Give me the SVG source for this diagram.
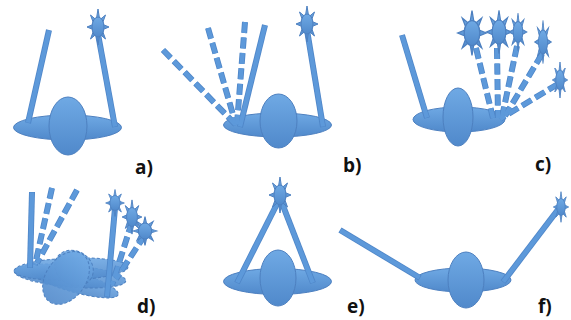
<svg xmlns="http://www.w3.org/2000/svg" xmlns:xlink="http://www.w3.org/1999/xlink" width="571" height="320" viewBox="0 0 571 320">
  <defs>
    <linearGradient id="blue" x1="0" y1="0" x2="0" y2="1">
      <stop offset="0" stop-color="#6fa9e4"/>
      <stop offset="1" stop-color="#5089cb"/>
    </linearGradient>
    <!-- sun / light source: narrow spikes behind an elliptic body -->
    <g id="sun">
      <polygon class="body" points="0,-18 1.4,-9.2 2.9,-8.1 7.5,-12 4.9,-4.9 5.5,-2.3 11,0 5.5,2.3 4.9,4.9 7.5,12 2.9,8.1 1.4,9.2 0,18 -1.4,9.2 -2.9,8.1 -7.5,12 -4.9,4.9 -5.5,2.3 -11,0 -5.5,-2.3 -4.9,-4.9 -7.5,-12 -2.9,-8.1 -1.4,-9.2"/>
      <ellipse class="body" cx="0" cy="0" rx="6" ry="10"/>
    </g>
    <style>
      .body { fill: url(#blue); stroke: #4d80c0; stroke-width: 1; }
      .ghost { fill: url(#blue); fill-opacity: 0.9; stroke: #4d80c0; stroke-width: 1; stroke-dasharray: 3 2; }
      .stick line { stroke-linecap: butt; }
      .edge line { stroke: #4f86c8; stroke-width: 6; }
      .core line { stroke: #5d99da; stroke-width: 4.4; }
      .dash { stroke-dasharray: 11 4.5; }
      .label { font-family: "Open Sans", "Liberation Sans", sans-serif; font-weight: bold; font-size: 19px; fill: #111; }
    </style>
  </defs>

  <!-- a) two sticks, one touching the sun -->
  <g id="panel-a">
    <ellipse class="body" cx="67.5" cy="127.5" rx="54" ry="12.5"/>
    <ellipse class="body" cx="68" cy="126" rx="19" ry="29"/>
    <g class="stick edge">
      <line x1="49" y1="30" x2="28" y2="123"/>
      <line x1="98" y1="34" x2="115" y2="127"/>
    </g>
    <g class="stick core">
      <line x1="49" y1="30.5" x2="28" y2="122.5"/>
      <line x1="98" y1="34.5" x2="115" y2="126.5"/>
    </g>
    <use xlink:href="#sun" transform="translate(98,27)"/>
    <text class="label" x="135" y="174">a)</text>
  </g>

  <!-- b) one stick sweeping towards the other -->
  <g id="panel-b">
    <ellipse class="body" cx="277.5" cy="125" rx="54" ry="12"/>
    <ellipse class="body" cx="278.5" cy="121" rx="18.5" ry="27"/>
    <g class="stick edge">
      <line class="dash" x1="163" y1="50" x2="236" y2="125"/>
      <line class="dash" x1="208" y1="28" x2="236" y2="125"/>
      <line class="dash" x1="245" y1="22" x2="237" y2="124"/>
      <line x1="265" y1="25" x2="240" y2="127"/>
      <line x1="307" y1="30" x2="323" y2="127"/>
    </g>
    <g class="stick core">
      <line class="dash" x1="163" y1="50" x2="236" y2="125"/>
      <line class="dash" x1="208" y1="28" x2="236" y2="125"/>
      <line class="dash" x1="245" y1="22" x2="237" y2="124"/>
      <line x1="265" y1="25.5" x2="240" y2="126.5"/>
      <line x1="307" y1="30.5" x2="323" y2="126.5"/>
    </g>
    <use xlink:href="#sun" transform="translate(307,24)"/>
    <text class="label" x="343" y="172">b)</text>
  </g>

  <!-- c) the sun-side stick sweeping through several positions -->
  <g id="panel-c">
    <ellipse class="body" cx="459" cy="119.5" rx="46" ry="12.5"/>
    <ellipse class="body" cx="458" cy="117" rx="15" ry="29"/>
    <g class="stick edge">
      <line x1="402" y1="35" x2="427" y2="118"/>
      <line class="dash" x1="476" y1="48" x2="493" y2="118"/>
      <line class="dash" x1="497" y1="48" x2="498" y2="118"/>
      <line class="dash" x1="517" y1="46" x2="502" y2="117"/>
      <line class="dash" x1="542" y1="54" x2="505" y2="116"/>
      <line class="dash" x1="558" y1="84" x2="500" y2="119"/>
    </g>
    <g class="stick core">
      <line x1="402" y1="35.5" x2="427" y2="117.5"/>
      <line class="dash" x1="476" y1="48" x2="493" y2="118"/>
      <line class="dash" x1="497" y1="48" x2="498" y2="118"/>
      <line class="dash" x1="517" y1="46" x2="502" y2="117"/>
      <line class="dash" x1="542" y1="54" x2="505" y2="116"/>
      <line class="dash" x1="558" y1="84" x2="500" y2="119"/>
    </g>
    <use xlink:href="#sun" transform="translate(472,33) scale(1.3,1.25)"/>
    <use xlink:href="#sun" transform="translate(499,32) scale(1.15,1.2)"/>
    <use xlink:href="#sun" transform="translate(518,32) scale(0.8,1.05)"/>
    <use xlink:href="#sun" transform="translate(543,42) scale(0.75,1.2)"/>
    <use xlink:href="#sun" transform="translate(560,80) scale(0.7,1.0)"/>
    <text class="label" x="535" y="171">c)</text>
  </g>

  <!-- d) body tumbling while both sticks move -->
  <g id="panel-d">
    <ellipse class="ghost" cx="74" cy="282" rx="46" ry="10" transform="rotate(16 74 282)"/>
    <ellipse class="ghost" cx="70" cy="276" rx="56" ry="11" transform="rotate(5 70 276)"/>
    <ellipse class="ghost" cx="71" cy="269" rx="57" ry="11" transform="rotate(-2 71 269)"/>
    <ellipse class="ghost" cx="74" cy="268" rx="20" ry="17" transform="rotate(30 74 268)"/>
    <ellipse class="ghost" cx="66" cy="278" rx="20" ry="29" transform="rotate(35 66 278)"/>
    <g class="stick edge">
      <line x1="32" y1="192" x2="30" y2="268"/>
      <line class="dash" x1="52" y1="188" x2="35" y2="265"/>
      <line class="dash" x1="77" y1="190" x2="37" y2="263"/>
      <line x1="115" y1="208" x2="107" y2="297"/>
      <line class="dash" x1="132" y1="222" x2="112" y2="285"/>
      <line class="dash" x1="145" y1="235" x2="116" y2="279"/>
    </g>
    <g class="stick core">
      <line x1="32" y1="192.5" x2="30" y2="267.5"/>
      <line class="dash" x1="52" y1="188" x2="35" y2="265"/>
      <line class="dash" x1="77" y1="190" x2="37" y2="263"/>
      <line x1="115" y1="208.5" x2="107" y2="296.5"/>
      <line class="dash" x1="132" y1="222" x2="112" y2="285"/>
      <line class="dash" x1="145" y1="235" x2="116" y2="279"/>
    </g>
    <use xlink:href="#sun" transform="translate(115,203) scale(0.85,0.75)"/>
    <use xlink:href="#sun" transform="translate(132,217) scale(0.9,0.95)"/>
    <use xlink:href="#sun" transform="translate(145,231) scale(1.1,0.8)"/>
    <text class="label" x="137" y="313">d)</text>
  </g>

  <!-- e) both sticks meeting at the sun -->
  <g id="panel-e">
    <ellipse class="body" cx="277.5" cy="281.5" rx="54" ry="13"/>
    <ellipse class="body" cx="278" cy="278" rx="18" ry="28"/>
    <g class="stick edge">
      <line x1="280" y1="198" x2="237" y2="283"/>
      <line x1="280" y1="198" x2="313" y2="283"/>
    </g>
    <g class="stick core">
      <line x1="280" y1="198" x2="237.2" y2="282.6"/>
      <line x1="280" y1="198" x2="312.8" y2="282.6"/>
    </g>
    <use xlink:href="#sun" transform="translate(280,195)"/>
    <text class="label" x="347" y="313">e)</text>
  </g>

  <!-- f) sticks spread wide -->
  <g id="panel-f">
    <ellipse class="body" cx="463" cy="280" rx="48" ry="12"/>
    <ellipse class="body" cx="466" cy="280" rx="18" ry="28"/>
    <g class="stick edge">
      <line x1="340" y1="230" x2="420" y2="278"/>
      <line x1="560" y1="207" x2="503" y2="282"/>
    </g>
    <g class="stick core">
      <line x1="340.4" y1="230.3" x2="419.6" y2="277.7"/>
      <line x1="560" y1="207" x2="503.3" y2="281.6"/>
    </g>
    <use xlink:href="#sun" transform="translate(561,207) scale(0.7,0.85)"/>
    <text class="label" x="538" y="313">f)</text>
  </g>
</svg>
